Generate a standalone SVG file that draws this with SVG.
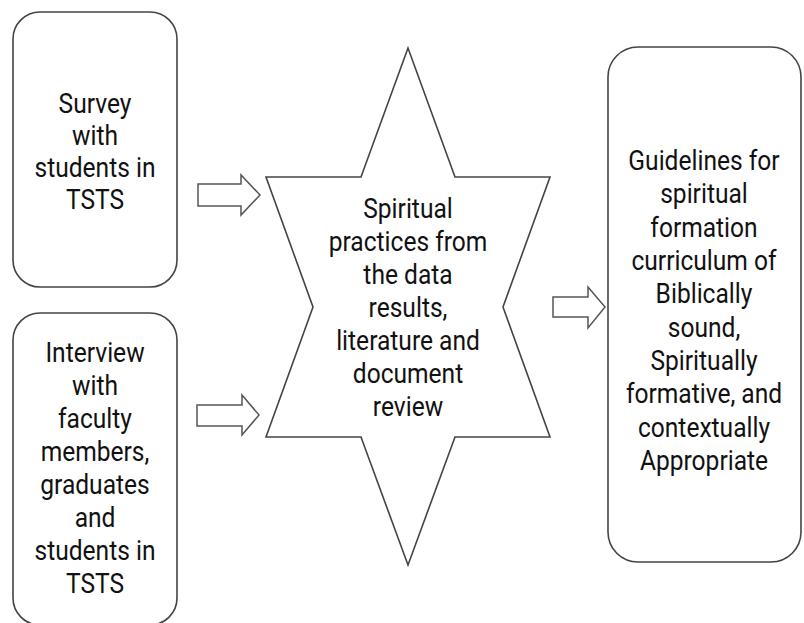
<svg xmlns="http://www.w3.org/2000/svg" width="804" height="623" viewBox="0 0 804 623">
<style>
.box{fill:#fff;stroke:#444;stroke-width:1.6}
.arr{fill:#fff;stroke:#555;stroke-width:1.5;stroke-linejoin:miter}
.t{font-family:Roboto,"Liberation Sans",sans-serif;font-size:27px;fill:#111;text-anchor:middle}
</style>
<rect width="804" height="623" fill="#fff"/>
<g id="connectors">
<polygon class="arr" points="198,184 241,184 241,175 260,195 241,215 241,206 198,206"/>
<polygon class="arr" points="197,405 242,405 242,395 259,415 242,435 242,426 197,426"/>
<polygon class="arr" points="553,297 588,297 588,287 605,307 588,328 588,317 553,317"/>
</g>
<g id="survey">
<rect class="box" x="13" y="12" width="164" height="275" rx="27"/>
<g transform="translate(95,0) scale(0.91,1)">
<text class="t"><tspan x="0" y="113">Survey</tspan><tspan x="0" y="145">with</tspan><tspan x="0" y="177">students in</tspan><tspan x="0" y="209">TSTS</tspan></text>
</g>
</g>
<g id="interview">
<rect class="box" x="13" y="313" width="164" height="312" rx="27"/>
<g transform="translate(95,0) scale(0.91,1)">
<text class="t"><tspan x="0" y="362">Interview</tspan><tspan x="0" y="395">with</tspan><tspan x="0" y="428">faculty</tspan><tspan x="0" y="461">members,</tspan><tspan x="0" y="494">graduates</tspan><tspan x="0" y="527">and</tspan><tspan x="0" y="560">students in</tspan><tspan x="0" y="593">TSTS</tspan></text>
</g>
</g>
<g id="star">
<polygon class="box" points="408,48 361,177 266,177 313,307 266,437 361,437 408,565 455,437 550,437 503,307 550,177 455,177"/>
<g transform="translate(408,0) scale(0.91,1)">
<text class="t"><tspan x="0" y="218">Spiritual</tspan><tspan x="0" y="251">practices from</tspan><tspan x="0" y="284">the data</tspan><tspan x="0" y="317">results,</tspan><tspan x="0" y="350">literature and</tspan><tspan x="0" y="383">document</tspan><tspan x="0" y="416">review</tspan></text>
</g>
</g>
<g id="guidelines">
<rect class="box" x="608" y="47" width="193" height="515" rx="30"/>
<g transform="translate(704,0) scale(0.91,1)">
<text class="t"><tspan x="0" y="170">Guidelines for</tspan><tspan x="0" y="203.3">spiritual</tspan><tspan x="0" y="236.6">formation</tspan><tspan x="0" y="270">curriculum of</tspan><tspan x="0" y="303.3">Biblically</tspan><tspan x="0" y="336.6">sound,</tspan><tspan x="0" y="370">Spiritually</tspan><tspan x="0" y="403.3">formative, and</tspan><tspan x="0" y="436.6">contextually</tspan><tspan x="0" y="470">Appropriate</tspan></text>
</g>
</g>
</svg>
